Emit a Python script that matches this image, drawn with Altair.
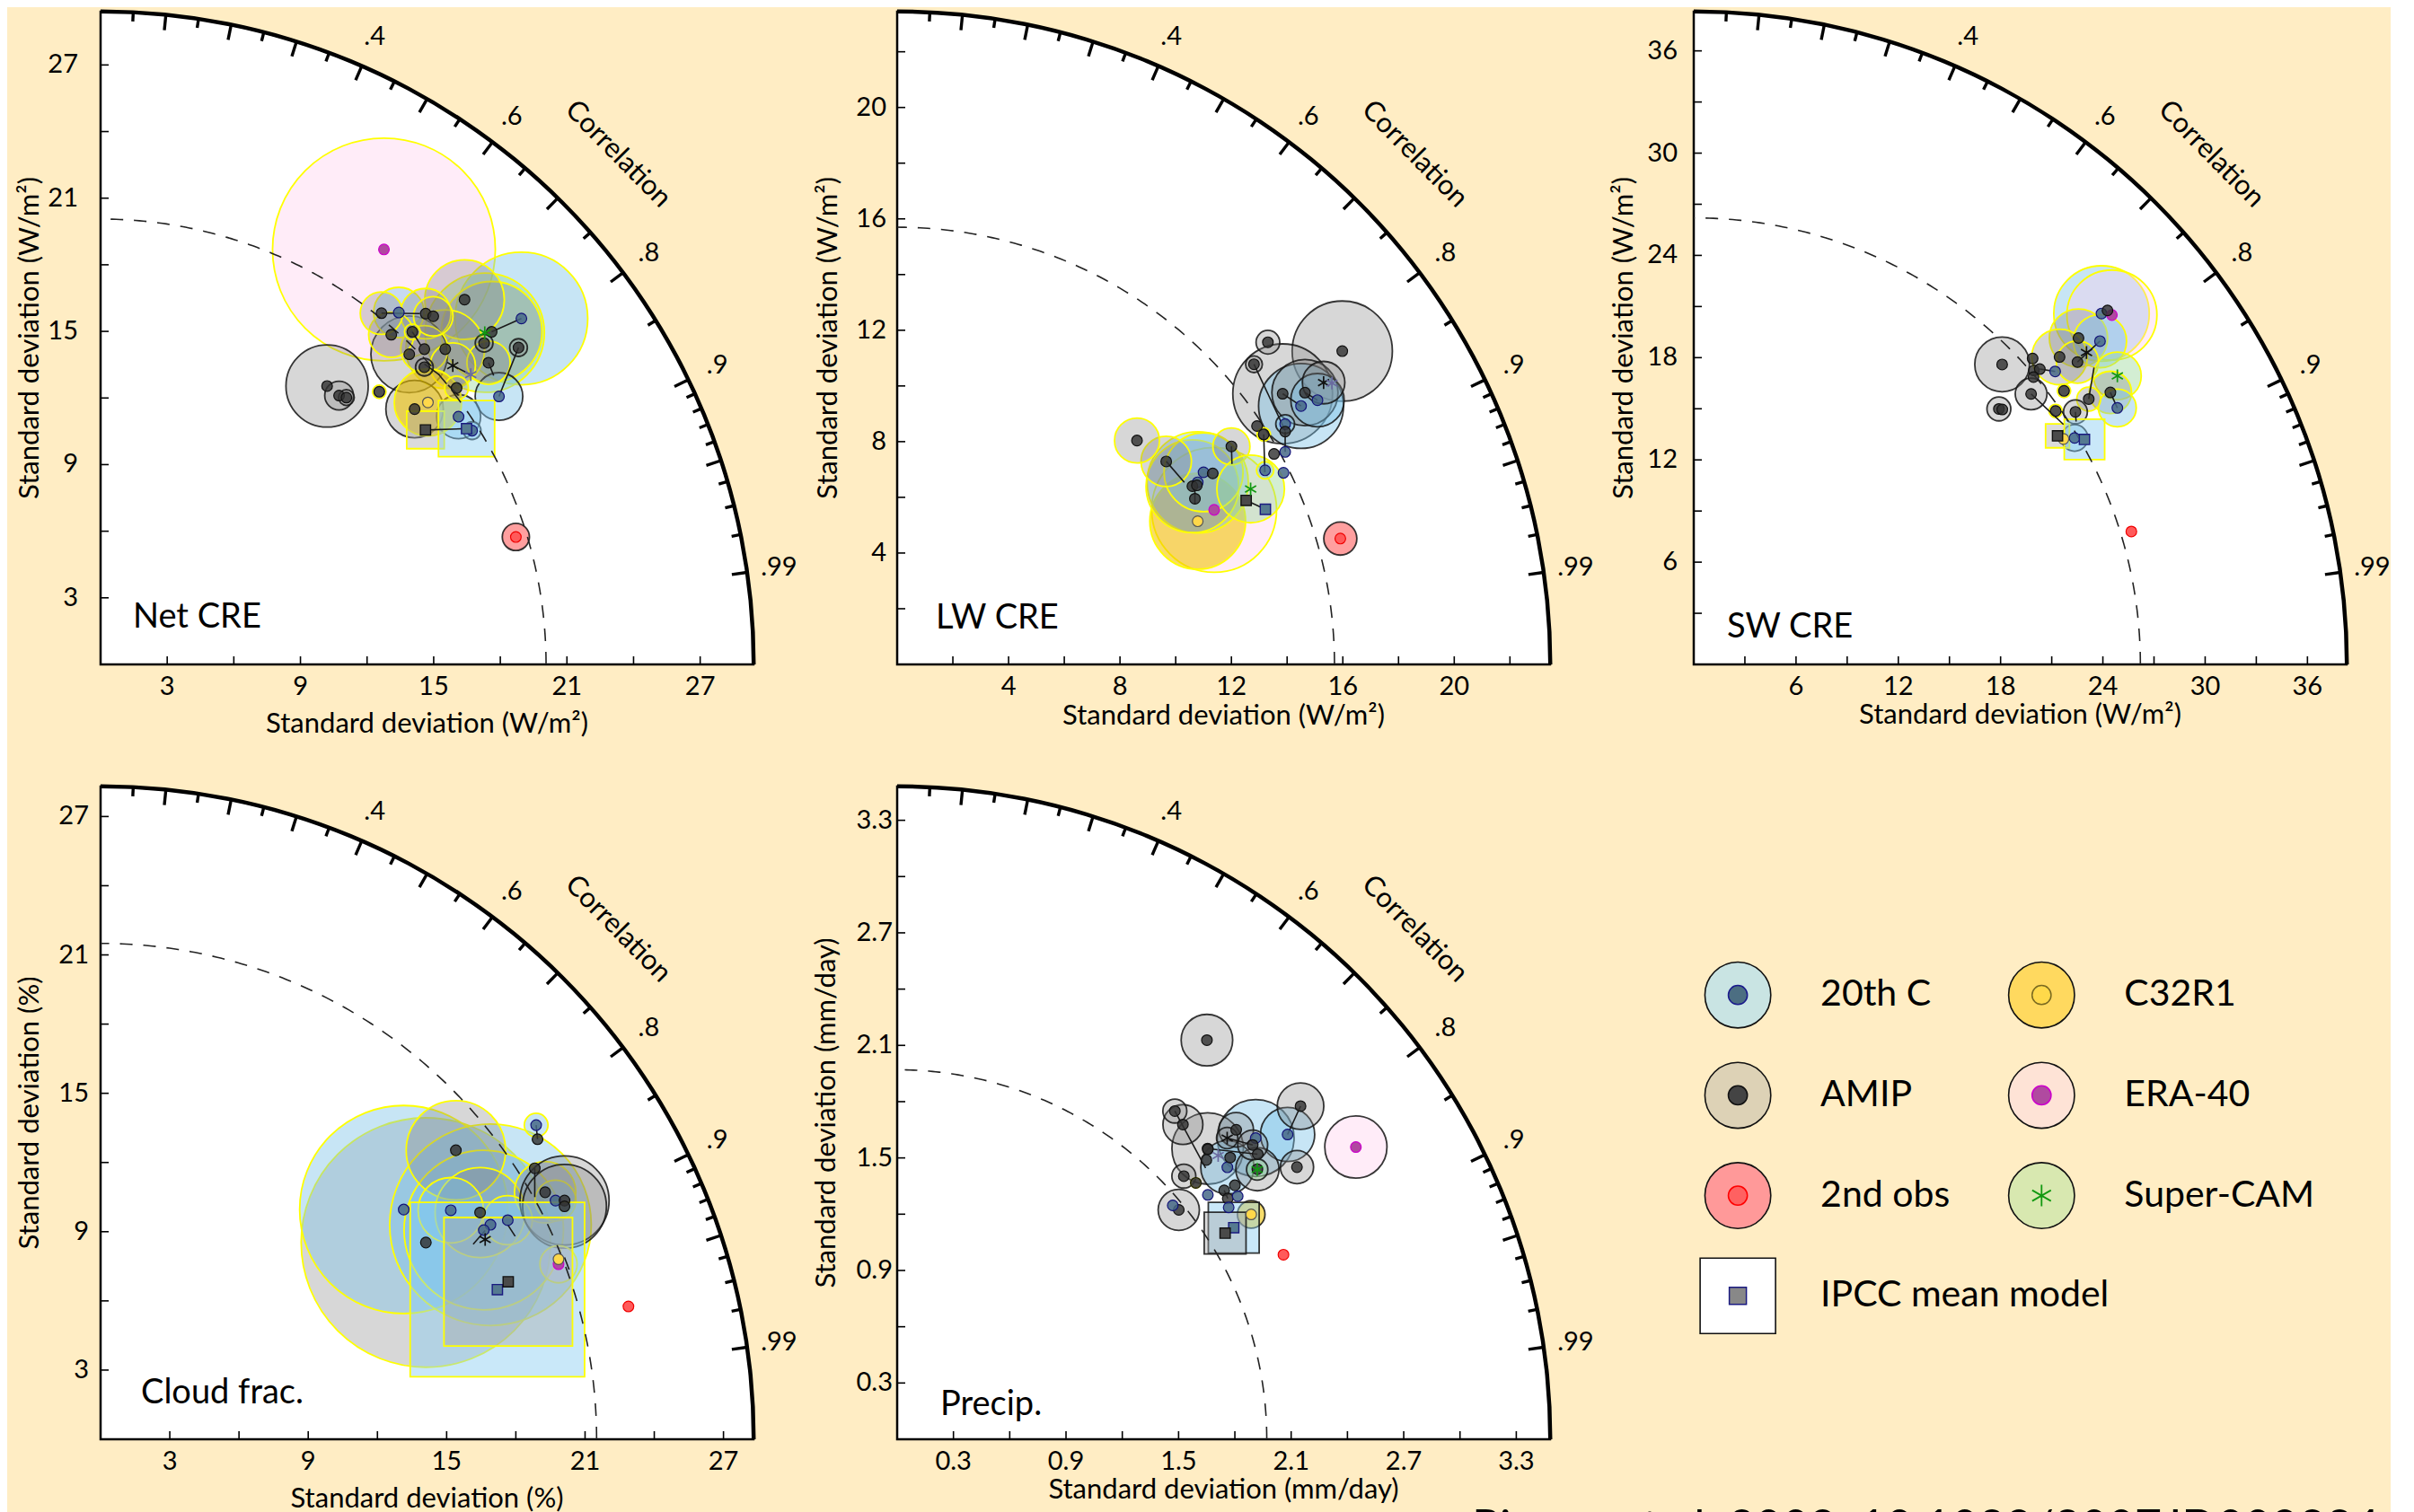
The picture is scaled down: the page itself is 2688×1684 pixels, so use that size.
import math
import numpy as np
import pandas as pd
import altair as alt

FONT = "Lato"
BG = "#FFEDC4"
PS = 727      # side of each Taylor plot area (px)
TICK = 9      # inward axis tick length (px)

# ---------------------------------------------------------------- data
# group codes: A=AMIP, C=20th C, O=2nd obs, Y=C32R1, E=ERA-40, S=Super-CAM,
#              AM=AMIP model mean (asterisk), CM=20th C model mean (asterisk)
# bubble tuples: (group, std_x, std_y, bubble radius, outline k=black / y=yellow)
NET_BUBBLES = [
    ("E", 12.76, 18.69, 5.66, "y"), ("C", 18.95, 15.58, 3.37, "y"), ("S", 17.30, 14.94, 3.03, "y"),
    ("A", 17.61, 14.98, 2.56, "y"), ("A", 16.39, 16.43, 2.02, "y"), ("A", 10.20, 12.54, 2.09, "k"),
    ("A", 15.52, 14.20, 2.00, "y"), ("A", 13.90, 13.97, 1.95, "k"), ("A", 14.14, 11.50, 1.46, "k"),
    ("C", 13.43, 15.85, 1.28, "y"), ("A", 14.64, 15.80, 1.28, "y"), ("C", 17.94, 12.07, 1.21, "k"),
    ("A", 14.58, 14.20, 1.20, "y"), ("A", 13.09, 14.85, 1.15, "y"), ("C", 16.12, 11.16, 1.12, "k"),
    ("A", 17.47, 13.59, 1.10, "y"), ("A", 12.65, 15.82, 1.08, "y"), ("A", 14.98, 15.68, 1.00, "y"),
    ("AM", 15.86, 13.46, 1.15, "y"), ("Y", 14.74, 11.80, 1.71, "y"), ("A", 10.74, 12.11, 0.73, "k"),
    ("O", 18.70, 5.74, 0.69, "k"), ("A", 16.03, 12.45, 0.60, "y"), ("A", 17.27, 14.47, 0.45, "k"),
    ("A", 18.82, 14.27, 0.45, "k"), ("A", 14.58, 13.39, 0.45, "k"), ("C", 16.73, 10.53, 0.45, "k"),
    ("A", 11.07, 12.02, 0.40, "k"), ("A", 14.04, 14.98, 0.40, "y"), ("A", 12.55, 12.28, 0.34, "y"),
    ("CM", 16.67, 13.05, 0.0, "k"),
]
NET_SQUARES = [("A", 14.63, 10.56, 1.69, "y"), ("C", 16.48, 10.62, 2.53, "y")]
NET_LINES = [
    (12.65, 15.82, 14.38, 15.80), (18.95, 15.58, 17.61, 14.98), (18.82, 14.27, 17.94, 12.07),
    (14.04, 14.98, 14.44, 14.34), (15.86, 13.46, 16.67, 13.05), (17.47, 13.59, 17.70, 13.01),
    (14.58, 13.53, 15.25, 13.05), (15.65, 12.58, 16.12, 12.11), (14.63, 10.56, 16.48, 10.62),
]

LW_BUBBLES = [
    ("E", 11.38, 5.55, 2.53, "y"), ("A", 15.98, 11.25, 2.03, "k"), ("A", 13.84, 9.72, 2.02, "k"),
    ("C", 14.50, 9.28, 1.72, "k"), ("A", 14.64, 9.76, 1.34, "k"), ("C", 15.09, 9.49, 1.08, "k"),
    ("AM", 15.31, 10.12, 0.86, "k"), ("CM", 15.61, 10.10, 0.0, "k"), ("A", 13.31, 11.57, 0.48, "k"),
    ("A", 12.81, 10.78, 0.34, "k"), ("C", 13.93, 8.63, 0.38, "k"), ("Y", 10.79, 5.14, 1.94, "y"),
    ("C", 10.79, 6.54, 2.05, "y"), ("A", 10.60, 6.40, 1.88, "y"), ("C", 11.00, 6.90, 1.60, "y"),
    ("A", 9.66, 7.29, 1.02, "y"), ("A", 8.61, 8.04, 0.91, "y"), ("A", 12.00, 7.83, 0.75, "y"),
    ("S", 12.69, 6.30, 1.37, "y"), ("A", 13.16, 8.26, 0.27, "y"), ("C", 13.21, 6.97, 0.35, "y"),
    ("A", 12.92, 8.56, 0.0, "k"), ("A", 13.93, 8.36, 0.0, "k"), ("A", 13.53, 7.56, 0.0, "k"),
    ("C", 13.93, 7.63, 0.0, "k"), ("C", 13.87, 6.88, 0.0, "k"), ("A", 10.76, 6.43, 0.0, "k"),
    ("A", 10.69, 5.95, 0.0, "k"), ("A", 11.33, 6.86, 0.0, "k"), ("O", 15.91, 4.52, 0.67, "k"),
]
LW_SQUARES = [("A", 12.53, 5.89, 0.0, "k"), ("C", 13.22, 5.57, 0.0, "k")]
LW_LINES = [
    (12.81, 10.78, 13.93, 8.40), (13.84, 9.72, 14.50, 9.28), (14.64, 9.76, 15.09, 9.49),
    (9.66, 7.29, 10.31, 6.54), (10.69, 6.43, 10.69, 5.75), (12.00, 7.83, 12.02, 7.20),
    (13.16, 8.26, 13.20, 6.90), (13.93, 8.36, 13.93, 7.63), (12.53, 5.89, 13.22, 5.57),
]

SW_BUBBLES = [
    ("C", 23.92, 20.59, 3.16, "y"), ("E", 24.53, 20.50, 2.98, "y"), ("A", 22.57, 19.15, 1.93, "y"),
    ("C", 23.83, 18.97, 1.76, "y"), ("A", 21.46, 18.04, 1.84, "y"), ("A", 18.09, 17.60, 1.81, "k"),
    ("A", 22.51, 17.74, 1.40, "y"), ("S", 24.85, 16.93, 1.58, "y"), ("A", 24.44, 15.96, 1.40, "y"),
    ("C", 24.85, 15.05, 1.25, "y"), ("A", 19.79, 15.87, 1.05, "k"), ("A", 17.90, 14.99, 0.79, "k"),
    ("A", 18.10, 14.96, 0.0, "k"), ("A", 19.88, 17.95, 0.0, "k"), ("A", 19.95, 17.25, 0.0, "k"),
    ("A", 20.30, 17.33, 0.0, "k"), ("A", 19.93, 16.86, 0.0, "k"), ("C", 21.20, 17.19, 0.0, "k"),
    ("A", 21.72, 16.05, 0.44, "y"), ("A", 23.17, 15.57, 0.79, "y"), ("A", 21.23, 14.87, 0.44, "y"),
    ("A", 22.39, 14.82, 0.79, "k"), ("C", 22.34, 13.29, 0.88, "k"), ("A", 24.27, 20.77, 0.0, "k"),
    ("AM", 23.04, 18.30, 0.0, "k"), ("Y", 21.69, 13.23, 0.0, "k"), ("O", 25.67, 7.80, 0.0, "k"),
]
SW_SQUARES = [("A", 21.34, 13.41, 1.40, "y"), ("C", 22.92, 13.20, 2.37, "y")]
SW_LINES = [
    (19.79, 15.87, 21.69, 14.08), (20.30, 17.33, 21.20, 17.19), (22.51, 17.74, 23.83, 18.97),
    (23.17, 15.57, 23.48, 17.42), (24.44, 15.96, 24.85, 15.05), (22.39, 14.82, 22.43, 14.25),
]

CLD_BUBBLES = [
    ("A", 14.10, 8.53, 6.10, "y"), ("C", 13.14, 9.96, 5.09, "y"), ("C", 16.90, 9.30, 4.93, "y"),
    ("C", 16.61, 9.07, 3.90, "y"), ("A", 15.40, 12.53, 2.43, "y"), ("A", 16.45, 9.83, 2.20, "y"),
    ("C", 15.18, 9.93, 1.60, "y"), ("A", 19.27, 10.71, 1.50, "y"), ("C", 17.65, 9.50, 1.20, "y"),
    ("C", 19.72, 10.35, 1.00, "y"), ("A", 20.11, 10.35, 2.18, "k"), ("A", 20.11, 10.10, 2.05, "k"),
    ("C", 18.88, 13.62, 0.58, "y"), ("A", 18.94, 13.01, 0.0, "k"), ("A", 18.82, 11.75, 0.0, "k"),
    ("E", 19.85, 7.59, 0.91, "y"), ("Y", 19.85, 7.81, 0.0, "k"), ("AM", 16.67, 8.66, 0.0, "k"),
    ("O", 22.88, 5.76, 0.0, "k"),
]
CLD_SQUARES = [("C", 17.20, 6.49, 7.56, "y"), ("A", 17.67, 6.83, 5.57, "y")]
CLD_LINES = [
    (18.82, 11.75, 18.82, 10.50), (18.88, 13.62, 18.94, 13.01), (16.67, 9.05, 16.15, 8.46),
    (17.65, 9.30, 17.97, 8.80), (20.11, 7.88, 20.31, 7.36),
]

PR_BUBBLES = [
    ("C", 1.911, 1.606, 0.231, "k"), ("A", 1.655, 1.550, 0.215, "k"), ("E", 2.445, 1.558, 0.187, "k"),
    ("C", 2.081, 1.625, 0.163, "k"), ("A", 1.651, 2.128, 0.155, "k"), ("A", 2.150, 1.776, 0.140, "k"),
    ("C", 1.760, 1.450, 0.160, "k"), ("A", 1.501, 1.223, 0.124, "k"), ("A", 1.523, 1.678, 0.120, "k"),
    ("A", 1.807, 1.650, 0.104, "k"), ("A", 2.131, 1.451, 0.100, "k"), ("A", 1.920, 1.440, 0.130, "k"),
    ("A", 1.895, 1.569, 0.090, "k"), ("A", 1.528, 1.403, 0.072, "k"), ("A", 1.480, 1.750, 0.072, "k"),
    ("AM", 1.759, 1.606, 0.064, "k"), ("CM", 1.711, 1.513, 0.0, "k"), ("S", 1.919, 1.438, 0.064, "k"),
    ("Y", 1.887, 1.199, 0.083, "k"), ("C", 1.469, 1.247, 0.0, "k"), ("A", 1.656, 1.546, 0.0, "k"),
    ("A", 1.648, 1.489, 0.0, "k"), ("A", 1.775, 1.502, 0.0, "k"), ("A", 1.922, 1.520, 0.0, "k"),
    ("A", 1.743, 1.327, 0.0, "k"), ("A", 1.762, 1.284, 0.0, "k"), ("A", 1.800, 1.354, 0.0, "k"),
    ("C", 1.656, 1.303, 0.0, "k"), ("C", 1.815, 1.296, 0.0, "k"), ("C", 1.767, 1.236, 0.0, "k"),
    ("A", 1.592, 1.367, 0.03, "y"), ("O", 2.059, 0.984, 0.0, "k"),
]
PR_SQUARES = [("C", 1.794, 1.128, 0.271, "k"), ("A", 1.748, 1.099, 0.223, "k")]
PR_LINES = [
    (1.480, 1.750, 1.644, 1.446), (2.150, 1.776, 2.081, 1.625), (1.759, 1.606, 1.895, 1.569),
    (1.655, 1.550, 1.920, 1.520), (1.743, 1.327, 1.762, 1.284), (1.748, 1.099, 1.794, 1.128),
]

# reference (observed) standard deviation of each field: dashed arc
REF_STD = {"net": 20.06, "lw": 15.7, "sw": 26.2, "cld": 21.5, "pr": 1.97}
AXIS_MAX = {"net": 29.4, "lw": 23.44, "sw": 38.3, "cld": 28.3, "pr": 3.48}
TICKS = {
    "net": [3, 6, 9, 12, 15, 18, 21, 24, 27],
    "lw": [2, 4, 6, 8, 10, 12, 14, 16, 18, 20, 22],
    "sw": [3, 6, 9, 12, 15, 18, 21, 24, 27, 30, 33, 36],
    "cld": [3, 6, 9, 12, 15, 18, 21, 24, 27],
    "pr": [0.3, 0.6, 0.9, 1.2, 1.5, 1.8, 2.1, 2.4, 2.7, 3.0, 3.3],
}
TICK_LABELS = {
    "net": [3, 9, 15, 21, 27],
    "lw": [4, 8, 12, 16, 20],
    "sw": [6, 12, 18, 24, 30, 36],
    "cld": [3, 9, 15, 21, 27],
    "pr": [0.3, 0.9, 1.5, 2.1, 2.7, 3.3],
}
PANEL_NAMES = {"net": "Net CRE", "lw": "LW CRE", "sw": "SW CRE", "cld": "Cloud frac.", "pr": "Precip."}
UNITS = {"net": "W/m²", "lw": "W/m²", "sw": "W/m²", "cld": "%", "pr": "mm/day"}

CORR_MAJOR = [0.1, 0.2, 0.3, 0.4, 0.5, 0.6, 0.7, 0.8, 0.9, 0.95, 0.99]
CORR_MINOR = [0.05, 0.15, 0.25, 0.35, 0.45, 0.55, 0.65, 0.75, 0.85,
              0.91, 0.92, 0.93, 0.94, 0.96, 0.97, 0.98]
CORR_LABELS = [0.4, 0.6, 0.8, 0.9, 0.99]
CORR_TEXT = [".4", ".6", ".8", ".9", ".99"]

LEG_NAMES = ["20th C", "AMIP", "2nd obs", "C32R1", "ERA-40", "Super-CAM", "IPCC mean model"]
LEG_CODE = ["C", "A", "O", "Y", "E", "S", "Q"]
LEG_COL = [0, 0, 0, 1, 1, 1, 0]
LEG_ROW = [0, 1, 2, 0, 1, 2, 3]
CITATION = "Pincus et al. 2008, 10.1029/2007JD009334"

# ---------------------------------------------------------------- styles
GROUPS = ["A", "C", "O", "Y", "E", "S", "AM", "CM"]
BUB_FILL = ["rgba(130,130,130,0.32)", "rgba(122,192,232,0.42)", "rgba(255,80,80,0.55)",
            "rgba(242,196,0,0.58)", "rgba(255,200,236,0.35)", "rgba(150,215,150,0.42)",
            "rgba(130,130,130,0.32)", "rgba(122,192,232,0.42)"]
EDGES = ["k", "y"]
EDGE_COL = ["rgba(20,20,20,0.85)", "#FFFF00"]
DOT_GROUPS = ["A", "C", "O", "Y", "E"]
DOT_FILL = ["rgba(50,50,50,0.82)", "rgba(70,105,135,0.85)", "#FF5A5A", "#FFD84A", "#B048A0"]
DOT_EDGE = ["#111111", "#13137A", "#F00000", "#555555", "#CC00CC"]
STAR_KINDS = ["S", "AM", "CM"]
STAR_COL = ["#119911", "#111111", "#6A6AA0"]
SQ_GROUPS = ["A", "C"]
SQ_FILL = ["rgba(165,165,165,0.40)", "rgba(135,205,242,0.45)"]
SQ_SMALL_FILL = ["#4A4A4A", "#557A90"]
SQ_SMALL_EDGE = ["#111111", "#1A1A80"]
LEG_FILL = ["#C9E4E3", "#DDD2B6", "#FF9999", "#FFD95F", "#FEE3D6", "#D8E8B0", "white"]
LEG_DOT_FILL = ["#444444", "#4C6E82", "#FF6161", "#FFD94A", "#B04AA0"]   # order of DOT_GROUPS
LEG_DOT_EDGE = ["#111111", "#1A1A8C", "#FF0000", "#7A6A20", "#CC00CC"]
AST = "M0,-1L0,1M-0.87,-0.5L0.87,0.5M-0.87,0.5L0.87,-0.5"

# per-panel layout tweaks (px): y label gap, y title distance, x title distance, name offsets
LAYOUT = {
    "net": dict(ylp=25, yt=78, xt=67, ldx=36, ldy=41),
    "lw": dict(ylp=12, yt=76, xt=58, ldx=43, ldy=40),
    "sw": dict(ylp=18, yt=77, xt=57, ldx=37, ldy=30),
    "cld": dict(ylp=13, yt=78, xt=67, ldx=45, ldy=40),
    "pr": dict(ylp=5, yt=78, xt=57, ldx=48, ldy=27),
}
DATA = {
    "net": (NET_BUBBLES, NET_SQUARES, NET_LINES),
    "lw": (LW_BUBBLES, LW_SQUARES, LW_LINES),
    "sw": (SW_BUBBLES, SW_SQUARES, SW_LINES),
    "cld": (CLD_BUBBLES, CLD_SQUARES, CLD_LINES),
    "pr": (PR_BUBBLES, PR_SQUARES, PR_LINES),
}


def taylor(key):
    M = AXIS_MAX[key]
    ppu = PS / M
    lay = LAYOUT[key]
    bubbles, squares, lines = DATA[key]
    xs = alt.Scale(domain=[0, M], nice=False, zero=False)
    ys = alt.Scale(domain=[0, M], nice=False, zero=False)

    def X(f):
        return alt.X(f, type="quantitative", scale=xs, axis=None)

    def Y(f):
        return alt.Y(f, type="quantitative", scale=ys, axis=None)

    origin = pd.DataFrame({"x": [0.0], "y": [0.0]})
    disc = alt.Chart(origin).mark_arc(theta=0, theta2=math.pi / 2, radius=PS, fill="white",
                                      stroke="black", strokeWidth=2.5).encode(x=X("x"), y=Y("y"))
    ring = alt.Chart(origin).mark_arc(theta=0, theta2=math.pi / 2, radius=PS + 2.5, radius2=PS - 2,
                                      fill="black", strokeWidth=0).encode(x=X("x"), y=Y("y"))

    # standard-deviation axes: inward ticks + labels + titles
    fmt = (lambda v: f"{v:.1f}") if key == "pr" else (lambda v: f"{v:d}")
    ax = pd.DataFrame({"v": TICKS[key]})
    ax["lab"] = [fmt(v) if v in TICK_LABELS[key] else "" for v in TICKS[key]]
    ax["z"] = 0.0
    ax["t"] = TICK / ppu
    xt = alt.Chart(ax).mark_rule(color="black", strokeWidth=1.6).encode(x=X("v"), y=Y("z"), y2="t")
    yt = alt.Chart(ax).mark_rule(color="black", strokeWidth=1.6).encode(y=Y("v"), x=X("z"), x2="t")
    xl = alt.Chart(ax).mark_text(font=FONT, fontSize=29, color="black", align="center",
                                 baseline="middle", dy=25).encode(x=X("v"), y=Y("z"), text="lab:N")
    yl = alt.Chart(ax).mark_text(font=FONT, fontSize=29, color="black", align="right",
                                 baseline="middle", dx=-lay["ylp"]).encode(y=Y("v"), x=X("z"), text="lab:N")
    title = f"Standard deviation ({UNITS[key]})"
    xtitle = alt.Chart(origin).mark_text(font=FONT, fontSize=31, color="black", align="center",
                                         baseline="middle").encode(
        x=alt.value(PS / 2), y=alt.value(PS + lay["xt"]), text=alt.value(title))
    ytitle = alt.Chart(origin).mark_text(font=FONT, fontSize=31, color="black", align="center",
                                         baseline="middle", angle=270).encode(
        x=alt.value(-lay["yt"]), y=alt.value(PS / 2), text=alt.value(title))

    rows = [(c, 17) for c in CORR_MAJOR] + [(c, 10) for c in CORR_MINOR]
    tk = pd.DataFrame([{"x": M * c, "y": M * math.sqrt(1 - c * c),
                        "x2": (M - L / ppu) * c, "y2": (M - L / ppu) * math.sqrt(1 - c * c)}
                       for c, L in rows])
    cticks = alt.Chart(tk).mark_rule(color="black", strokeWidth=3.4).encode(
        x=X("x"), y=Y("y"), x2="x2", y2="y2")

    t = np.linspace(0, math.pi / 2, 181)
    refdf = pd.DataFrame({"i": np.arange(len(t)), "x": REF_STD[key] * np.cos(t),
                          "y": REF_STD[key] * np.sin(t)})
    ref = alt.Chart(refdf).mark_line(color="#222222", strokeWidth=1.6, strokeDash=[14, 12]).encode(
        x=X("x"), y=Y("y"), order="i:Q")

    bdf = pd.DataFrame(bubbles, columns=["g", "x", "y", "r", "e"])
    bdf["sz"] = math.pi * (bdf["r"] * ppu) ** 2
    bub = alt.Chart(bdf).transform_filter("datum.r > 0").mark_circle(opacity=1, strokeWidth=1.8).encode(
        x=X("x"), y=Y("y"), size=alt.Size("sz:Q", scale=None),
        fill=alt.Fill("g:N", scale=alt.Scale(domain=GROUPS, range=BUB_FILL), legend=None),
        stroke=alt.Stroke("e:N", scale=alt.Scale(domain=EDGES, range=EDGE_COL), legend=None))

    sdf = pd.DataFrame(squares, columns=["g", "x", "y", "side", "e"])
    sdf["sz"] = (sdf["side"] * ppu) ** 2
    bigsq = alt.Chart(sdf).transform_filter("datum.side > 0").mark_square(opacity=1, strokeWidth=1.8).encode(
        x=X("x"), y=Y("y"), size=alt.Size("sz:Q", scale=None),
        fill=alt.Fill("g:N", scale=alt.Scale(domain=SQ_GROUPS, range=SQ_FILL), legend=None),
        stroke=alt.Stroke("e:N", scale=alt.Scale(domain=EDGES, range=EDGE_COL), legend=None))

    ldf = pd.DataFrame(lines, columns=["x", "y", "x2", "y2"])
    segs = alt.Chart(ldf).mark_rule(color="#1A1A1A", strokeWidth=1.6).encode(
        x=X("x"), y=Y("y"), x2="x2", y2="y2")

    dots = alt.Chart(bdf).transform_filter(
        "indexof(['A','C','O','Y','E'], datum.g) >= 0").mark_circle(opacity=1, size=140, strokeWidth=1.2).encode(
        x=X("x"), y=Y("y"),
        fill=alt.Fill("g:N", scale=alt.Scale(domain=DOT_GROUPS, range=DOT_FILL), legend=None),
        stroke=alt.Stroke("g:N", scale=alt.Scale(domain=DOT_GROUPS, range=DOT_EDGE), legend=None))

    smallsq = alt.Chart(sdf).mark_square(opacity=1, size=130, strokeWidth=1.4).encode(
        x=X("x"), y=Y("y"),
        fill=alt.Fill("g:N", scale=alt.Scale(domain=SQ_GROUPS, range=SQ_SMALL_FILL), legend=None),
        stroke=alt.Stroke("g:N", scale=alt.Scale(domain=SQ_GROUPS, range=SQ_SMALL_EDGE), legend=None))

    stars = alt.Chart(bdf).transform_filter(
        "indexof(['S','AM','CM'], datum.g) >= 0").mark_point(shape=AST, filled=False, opacity=1,
                                                          size=200, strokeWidth=1.7).encode(
        x=X("x"), y=Y("y"),
        stroke=alt.Stroke("g:N", scale=alt.Scale(domain=STAR_KINDS, range=STAR_COL), legend=None))

    R = M + 36 / ppu
    cl = pd.DataFrame({"c": CORR_LABELS, "t": CORR_TEXT})
    cl["x"] = R * cl["c"]
    cl["y"] = R * np.sqrt(1 - cl["c"] ** 2)
    clab = alt.Chart(cl).mark_text(font=FONT, fontSize=29, color="black", align="center",
                                   baseline="middle").encode(x=X("x"), y=Y("y"), text="t:N")

    cc = 0.712
    Rc = M + 82 / ppu
    cw = pd.DataFrame({"x": [Rc * cc], "y": [Rc * math.sqrt(1 - cc * cc)], "t": ["Correlation"]})
    cword = alt.Chart(cw).mark_text(font=FONT, fontSize=31, color="black", align="center",
                                    baseline="middle",
                                    angle=90 - math.degrees(math.acos(cc))).encode(
        x=X("x"), y=Y("y"), text="t:N")

    pname = alt.Chart(origin).mark_text(font=FONT, fontSize=38, color="black", align="left",
                                        baseline="alphabetic").encode(
        x=alt.value(lay["ldx"]), y=alt.value(PS - lay["ldy"]), text=alt.value(PANEL_NAMES[key]))

    return alt.layer(disc, ring, cticks, xt, yt, bub, bigsq, ref, segs, dots, smallsq, stars,
                     xl, yl, xtitle, ytitle, clab, cword, pname).resolve_scale(
        fill="independent", stroke="independent").properties(width=PS, height=PS)


def legend_panel():
    LW = 752
    colstep, col0 = 338.2, 49.1
    rowstep, row0 = 111.7, 232.2
    xs = alt.Scale(domain=[-col0 / colstep, (LW - col0) / colstep], nice=False, zero=False)
    ys = alt.Scale(domain=[-row0 / rowstep, (PS - row0) / rowstep], nice=False, zero=False, reverse=True)
    df = pd.DataFrame({"name": LEG_NAMES, "code": LEG_CODE, "col": LEG_COL, "row": LEG_ROW})
    enc = dict(x=alt.X("col:Q", scale=xs, axis=None), y=alt.Y("row:Q", scale=ys, axis=None))
    circles = alt.Chart(df).transform_filter("datum.code != 'Q'").mark_circle(
        opacity=1, size=math.pi * 41.4 ** 2, stroke="#111111", strokeWidth=1.6).encode(
        **enc, fill=alt.Fill("code:N", scale=alt.Scale(domain=LEG_CODE, range=LEG_FILL), legend=None))
    box = alt.Chart(df).transform_filter("datum.code == 'Q'").mark_square(
        opacity=1, size=84 ** 2, fill="white", stroke="#111111", strokeWidth=1.6).encode(**enc)
    dots = alt.Chart(df).transform_filter("indexof(['A','C','O','Y','E'], datum.code) >= 0").mark_circle(
        opacity=1, size=450, strokeWidth=1.5).encode(
        **enc,
        fill=alt.Fill("code:N", scale=alt.Scale(domain=DOT_GROUPS, range=LEG_DOT_FILL), legend=None),
        stroke=alt.Stroke("code:N", scale=alt.Scale(domain=DOT_GROUPS, range=LEG_DOT_EDGE), legend=None))
    star = alt.Chart(df).transform_filter("datum.code == 'S'").mark_point(
        shape=AST, filled=False, opacity=1, size=576, stroke="#119911", strokeWidth=1.8).encode(**enc)
    sq = alt.Chart(df).transform_filter("datum.code == 'Q'").mark_square(
        opacity=1, size=19 ** 2, fill="#888888", stroke="#1A1A80", strokeWidth=1.5).encode(**enc)
    text = alt.Chart(df).mark_text(font=FONT, fontSize=41, color="black", align="left",
                                   baseline="middle", dx=92).encode(**enc, text="name:N")
    # citation line at the very bottom: only the top of the glyphs falls inside the page
    cite = alt.Chart(pd.DataFrame({"t": [CITATION]})).mark_text(
        font=FONT, fontSize=52, color="black", align="left", baseline="alphabetic").encode(
        x=alt.value(-247), y=alt.value(843), text="t:N")
    return alt.layer(circles, box, dots, star, sq, text, cite).resolve_scale(
        fill="independent", stroke="independent").properties(width=LW, height=PS)


chart = alt.concat(
    taylor("net"), taylor("lw"), taylor("sw"),
    taylor("cld"), taylor("pr"), legend_panel(),
    columns=3, spacing={"row": 136, "column": 160}, bounds="flush",
).properties(
    padding={"left": 10, "top": 0, "right": 0, "bottom": 0}
).configure(background=BG, font=FONT).configure_view(stroke=None)

chart.save("out.html", embed_options={"renderer": "svg", "actions": False})
